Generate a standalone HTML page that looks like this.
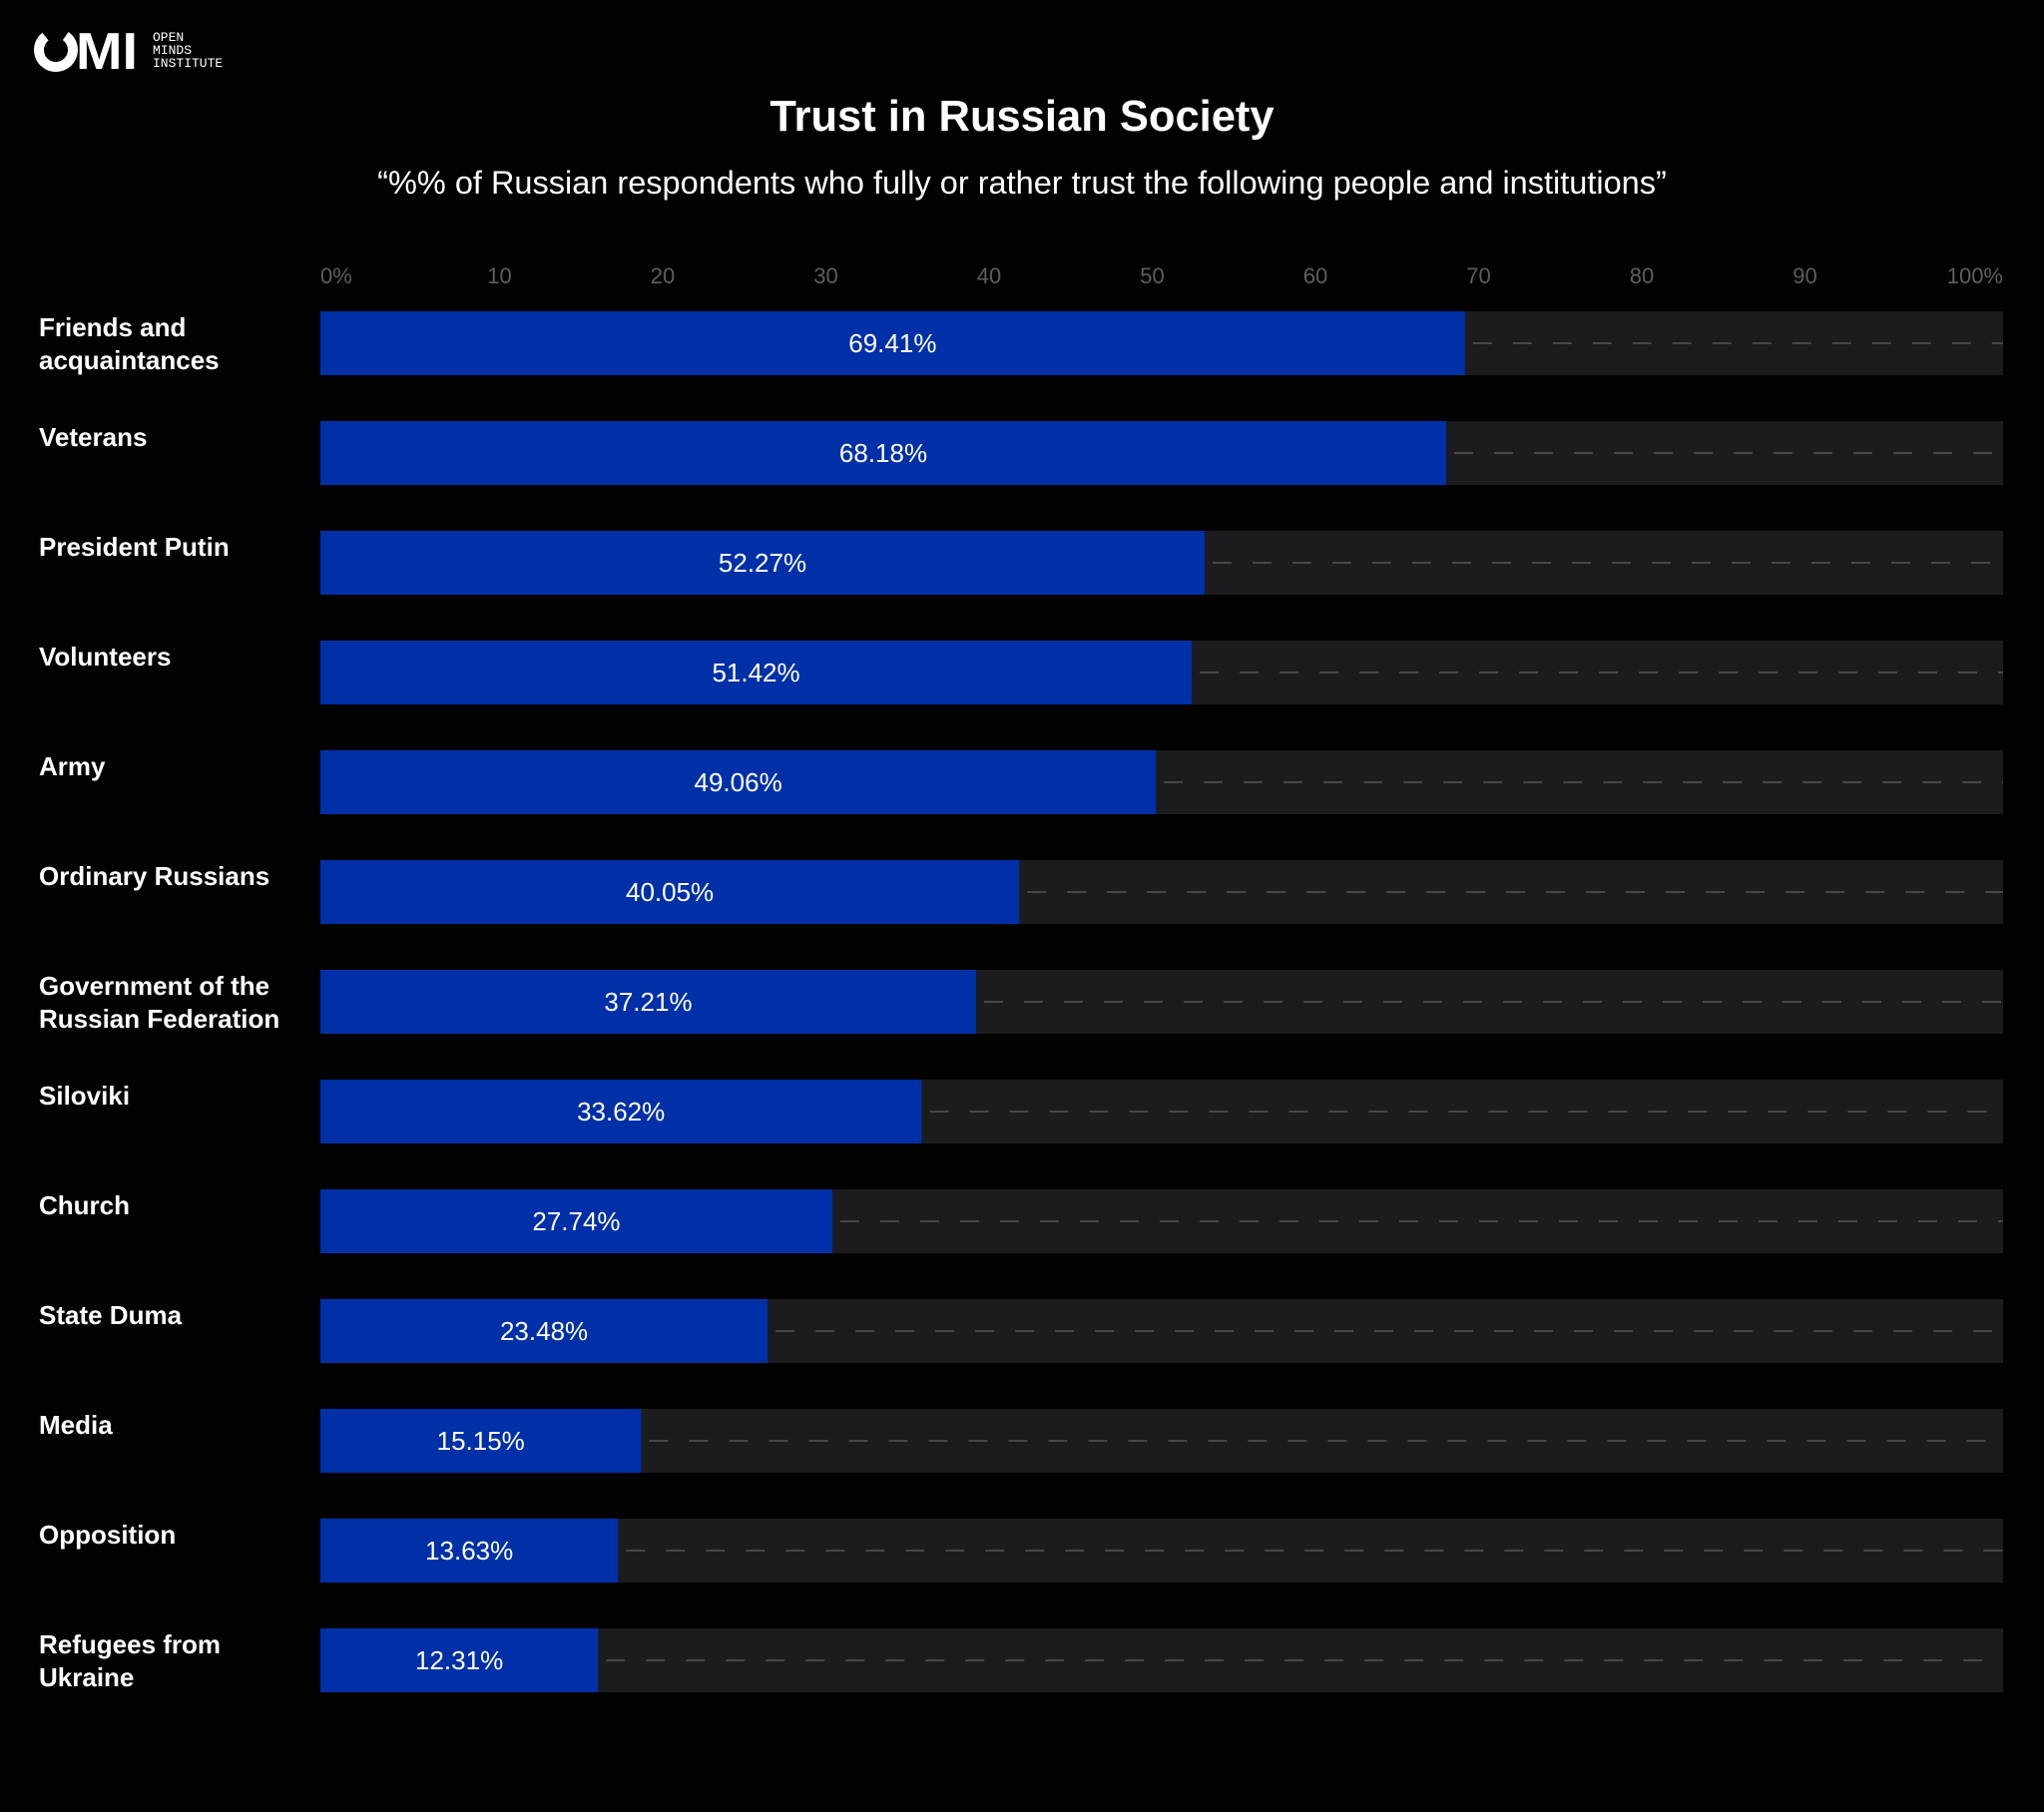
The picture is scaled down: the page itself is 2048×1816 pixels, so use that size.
<!DOCTYPE html>
<html><head><meta charset="utf-8"><style>
body{margin:0;background:#030203;width:2048px;height:1816px;overflow:hidden;font-family:"Liberation Sans",sans-serif;}
svg{display:block}
</style></head><body>
<svg id="chart" width="2048" height="1816" xmlns="http://www.w3.org/2000/svg">
<rect width="2048" height="1816" fill="#030203"/>
<g>
<circle cx="56" cy="50" r="17" fill="none" stroke="#fff" stroke-width="10" stroke-dasharray="85 22" transform="rotate(-55 56 50)"/>
<text x="76" y="69" fill="#fff" font-size="52" font-weight="bold" textLength="62" lengthAdjust="spacingAndGlyphs">MI</text>
<text x="153" y="41" fill="#fff" font-family="Liberation Mono,monospace" font-size="13">OPEN</text>
<text x="153" y="54" fill="#fff" font-family="Liberation Mono,monospace" font-size="13">MINDS</text>
<text x="153" y="67" fill="#fff" font-family="Liberation Mono,monospace" font-size="13">INSTITUTE</text>
</g>
<text x="1024" y="131" text-anchor="middle" fill="#fff" font-size="43.5" font-weight="bold">Trust in Russian Society</text>
<text x="1024" y="194" text-anchor="middle" fill="#fff" font-size="32.5">“%% of Russian respondents who fully or rather trust the following people and institutions”</text>
<g id="ticks"></g>
<g id="rows"></g>
</svg>
<script>
const categories = [["Friends and","acquaintances"],["Veterans"],["President Putin"],["Volunteers"],["Army"],["Ordinary Russians"],["Government of the","Russian Federation"],["Siloviki"],["Church"],["State Duma"],["Media"],["Opposition"],["Refugees from","Ukraine"]];
const values = [69.41,68.18,52.27,51.42,49.06,40.05,37.21,33.62,27.74,23.48,15.15,13.63,12.31];
const tickValues = [0,10,20,30,40,50,60,70,80,90,100];
const tickLabels = ["0%","10","20","30","40","50","60","70","80","90","100%"];

const NS="http://www.w3.org/2000/svg";
const trackLeft=321, trackRight=2007, top0=312, pitch=110, barH=64;
function xBar(v){return 412+v*15.21;}
function xTick(v){return 337+v*16.35;}
function yRow(i){return top0+i*pitch;}
function mk(tag,attrs,parent){const e=document.createElementNS(NS,tag);for(const k in attrs)e.setAttribute(k,attrs[k]);parent.appendChild(e);return e;}

const tg=document.getElementById('ticks');
tickValues.forEach((v,i)=>{
  let anchor="middle", x=xTick(v);
  if(i===0){anchor="start";x=trackLeft;}
  if(i===tickValues.length-1){anchor="end";x=trackRight;}
  const t=mk('text',{x:x,y:284,'text-anchor':anchor,fill:'#5e5e5e','font-size':22},tg);
  
  
  t.textContent=tickLabels[i];
});

const rg=document.getElementById('rows');
categories.forEach((lines,i)=>{
  const y=yRow(i);
  const g=mk('g',{},rg);
  
  
  const tr=mk('rect',{x:trackLeft,y:y,width:trackRight-trackLeft,height:barH,fill:'#1c1b1e'},g);
  
  
  const xe=xBar(values[i]);
  const dl=mk('line',{x1:xe+8,y1:y+barH/2,x2:trackRight,y2:y+barH/2,stroke:'#474649','stroke-width':2,'stroke-dasharray':'19 21'},g);
  
  
  const b=mk('rect',{x:trackLeft,y:y,width:xe-trackLeft,height:barH,fill:'#0030a8'},g);
  
  
  const vl=mk('text',{x:(trackLeft+xe)/2,y:y+barH/2+9,'text-anchor':'middle',fill:'#fff','font-size':26},g);
  
  
  vl.textContent=values[i].toFixed(2)+'%';
  const lab=mk('text',{x:39,y:y+25,fill:'#fff','font-size':26,'font-weight':'bold'},g);
  
  
  lines.forEach((ln,j)=>{const ts=mk('tspan',{x:39,dy:j?33:0},lab);ts.textContent=ln;});
});
</script>
</body></html>
